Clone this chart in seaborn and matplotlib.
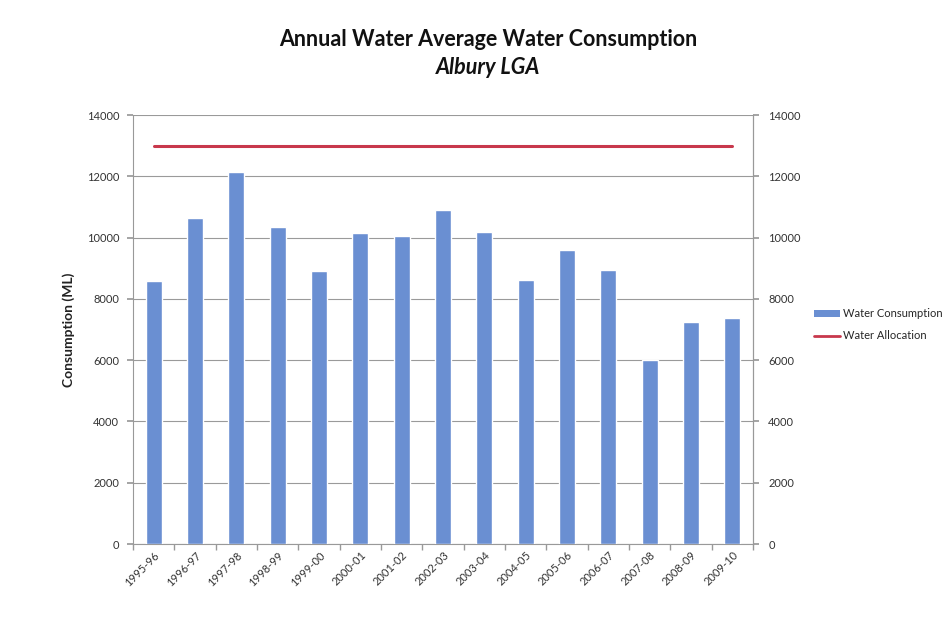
import matplotlib
matplotlib.use("Agg")
import matplotlib.pyplot as plt
import seaborn as sns
import pandas as pd
import numpy as np
from matplotlib.patches import Patch
from matplotlib.lines import Line2D

years = ["1995-96", "1996-97", "1997-98", "1998-99", "1999-00", "2000-01", "2001-02",
         "2002-03", "2003-04", "2004-05", "2005-06", "2006-07", "2007-08", "2008-09", "2009-10"]
consumption = [8580, 10640, 12150, 10340, 8900, 10140, 10040, 10900, 10170, 8620,
               9580, 8940, 6000, 7260, 7390]
allocation = [13000] * len(years)
yticks = [0, 2000, 4000, 6000, 8000, 10000, 12000, 14000]

sns.set_theme(style="white")
plt.rcParams['font.family'] = ['Lato', 'DejaVu Sans']

bar_color = "#6a8fd2"
line_color = "#c8384c"
grid_color = "#9a9a9a"

df = pd.DataFrame({"Year": years, "Consumption": consumption})

fig = plt.figure(figsize=(9.52, 6.33), dpi=100)
ax = fig.add_axes([0.1397, 0.1406, 0.6513, 0.6777])

sns.barplot(data=df, x="Year", y="Consumption", color=bar_color, width=0.39,
            saturation=1, ax=ax, zorder=3)
ax.set_ylim(0, 14000)
ax.set_yticks(yticks)
ax.set_yticklabels([str(t) for t in yticks], fontsize=8, color="#333333")
ax.set_xlim(-0.5, len(years) - 0.5)
ax.set_xticks(range(len(years)))
ax.set_xticklabels(years, rotation=45, ha="right", rotation_mode="anchor",
                   fontsize=8, color="#333333")
ax.set_xlabel("")
ax.set_ylabel("Consumption (ML)", fontsize=10, fontweight="bold", color="#222222", labelpad=8)
ax.yaxis.grid(True, color=grid_color, linewidth=0.8, zorder=0)
ax.set_axisbelow(True)
ax.spines["top"].set_visible(False)
for s in ["left", "bottom", "right"]:
    ax.spines[s].set_color("#999999")
    ax.spines[s].set_linewidth(0.8)
ax.tick_params(axis="y", length=4, color="#999999", direction="out", left=True, pad=6)
ax.tick_params(axis="x", length=0, pad=4)
ax.set_xticks(np.arange(-0.5, len(years)), minor=True)
ax.tick_params(axis="x", which="minor", length=4, color="#999999", bottom=True)

ax2 = ax.twinx()
sns.lineplot(x=np.arange(len(years)), y=allocation, color=line_color, linewidth=2.2,
             ax=ax2, legend=False)
ax2.set_ylim(0, 14000)
ax2.set_yticks(yticks)
ax2.set_yticklabels([str(t) for t in yticks], fontsize=8, color="#333333")
ax2.tick_params(axis="y", length=4, color="#999999", direction="out", right=True, pad=7)
ax2.set_ylabel("")
for s in ["top", "left", "bottom"]:
    ax2.spines[s].set_visible(False)
ax2.spines["right"].set_color("#999999")
ax2.spines["right"].set_linewidth(0.8)

fig.text(0.513, 0.938, "Annual Water Average Water Consumption", ha="center", va="center",
         fontsize=15.5, fontweight="bold", color="#111111")
fig.text(0.513, 0.894, "Albury LGA", ha="center", va="center",
         fontsize=15.5, fontweight="bold", style="italic", color="#111111")

handles = [Patch(facecolor=bar_color, edgecolor="none", label="Water Consumption"),
           Line2D([0], [0], color=line_color, linewidth=2, label="Water Allocation")]
fig.legend(handles=handles, loc="center left", bbox_to_anchor=(0.845, 0.487),
           frameon=False, fontsize=8, handlelength=2.3, handleheight=0.6,
           handletextpad=0.3, labelspacing=1.0)

fig.savefig("out.png", dpi=100, facecolor="white")
